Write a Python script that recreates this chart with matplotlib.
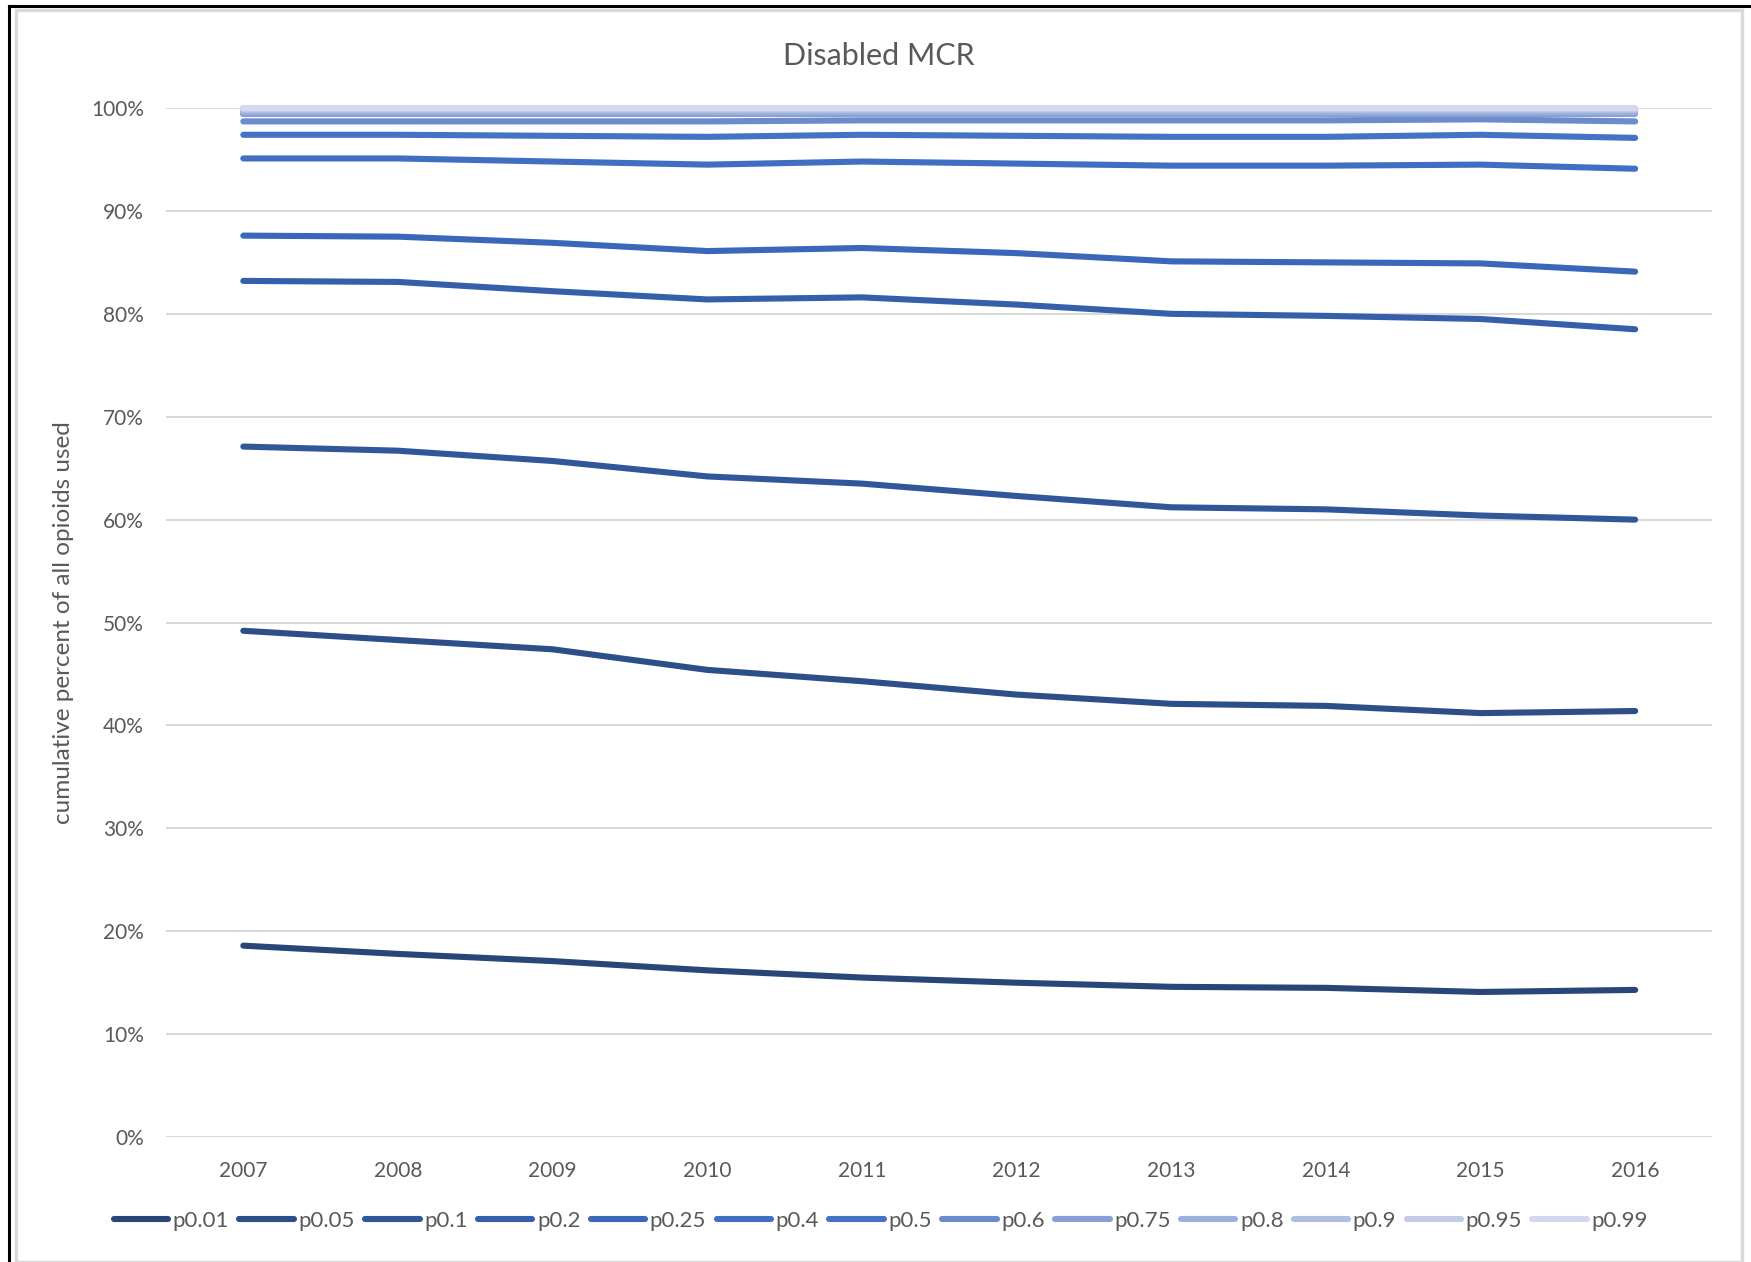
import numpy as np
import matplotlib.pyplot as plt
from matplotlib.lines import Line2D
from matplotlib.patches import Rectangle
from matplotlib.ticker import PercentFormatter

plt.rcParams['font.family'] = ['Lato', 'DejaVu Sans']

years = ['2007', '2008', '2009', '2010', '2011', '2012', '2013', '2014', '2015', '2016']
series_names = ['p0.01', 'p0.05', 'p0.1', 'p0.2', 'p0.25', 'p0.4', 'p0.5',
                'p0.6', 'p0.75', 'p0.8', 'p0.9', 'p0.95', 'p0.99']

# cumulative percent of all opioids used
p001 = [18.6, 17.8, 17.1, 16.2, 15.5, 15.0, 14.6, 14.5, 14.1, 14.3]
p005 = [49.2, 48.3, 47.4, 45.4, 44.3, 43.0, 42.1, 41.9, 41.2, 41.4]
p01 = [67.1, 66.7, 65.7, 64.2, 63.5, 62.3, 61.2, 61.0, 60.4, 60.0]
p02 = [83.2, 83.1, 82.2, 81.4, 81.6, 80.9, 80.0, 79.8, 79.5, 78.5]
p025 = [87.6, 87.5, 86.9, 86.1, 86.4, 85.9, 85.1, 85.0, 84.9, 84.1]
p04 = [95.1, 95.1, 94.8, 94.5, 94.8, 94.6, 94.4, 94.4, 94.5, 94.1]
p05 = [97.4, 97.4, 97.3, 97.2, 97.4, 97.3, 97.2, 97.2, 97.4, 97.1]
p06 = [98.7, 98.7, 98.7, 98.7, 98.8, 98.8, 98.8, 98.8, 98.9, 98.7]
p075 = [99.4, 99.4, 99.4, 99.4, 99.4, 99.4, 99.4, 99.4, 99.4, 99.4]
p08 = [99.6, 99.6, 99.6, 99.6, 99.6, 99.6, 99.6, 99.6, 99.6, 99.6]
p09 = [99.8, 99.8, 99.8, 99.8, 99.8, 99.8, 99.8, 99.8, 99.8, 99.8]
p095 = [99.9, 99.9, 99.9, 99.9, 99.9, 99.9, 99.9, 99.9, 99.9, 99.9]
p099 = [100.0, 100.0, 100.0, 100.0, 100.0, 100.0, 100.0, 100.0, 100.0, 100.0]

all_series = [p001, p005, p01, p02, p025, p04, p05, p06, p075, p08, p09, p095, p099]

colors = ['#284677', '#2C4E89', '#31579A', '#355FAB', '#3A67B9', '#3F6EC2', '#4472C4',
          '#6A8BCE', '#88A0D6', '#9CB0DC', '#B0BEE2', '#C2CCE8', '#D2D9EF']

fig = plt.figure(figsize=(17.51, 12.62), dpi=100)
ax = fig.add_axes([0.0948, 0.099, 0.978 - 0.0948, 0.9144 - 0.099])

x = np.arange(len(years))
for name, vals, c in zip(series_names, all_series, colors):
    ax.plot(x, vals, color=c, lw=4.4, solid_capstyle='round', solid_joinstyle='round',
            label=name, clip_on=False)

ax.set_xlim(-0.5, len(years) - 0.5)
ax.set_ylim(0, 100)
ax.set_yticks(np.arange(0, 101, 10))
ax.yaxis.set_major_formatter(PercentFormatter(decimals=0))
ax.set_xticks(x)
ax.set_xticklabels(years)
ax.grid(axis='y', color='#D9D9D9', lw=1.5)
ax.set_axisbelow(True)
for s in ax.spines.values():
    s.set_visible(False)
ax.tick_params(length=0, labelsize=15, labelcolor='#595959')
ax.tick_params(axis='x', pad=17)
ax.tick_params(axis='y', pad=16)
ax.set_ylabel('cumulative percent of all opioids used', fontsize=17.5, color='#595959', labelpad=12)
fig.text(0.502, 0.9555, 'Disabled MCR', fontsize=22, color='#595959', ha='center', va='center')

leg = fig.legend(loc='center', bbox_to_anchor=(0.503, 1 - 1221 / 1262), ncol=13, frameon=False,
                 fontsize=16, handlelength=2.45, handletextpad=0.2, columnspacing=0.47)
for t in leg.get_texts():
    t.set_color('#595959')

# chart border and screenshot edge
fig.add_artist(Rectangle((16 / 1751, 0), (1742 - 16) / 1751, 1 - 10 / 1262, transform=fig.transFigure,
                         fill=False, edgecolor='#D9D9D9', lw=2.5))
fig.add_artist(Line2D([9 / 1751, 9 / 1751], [0, 1 - 6 / 1262], transform=fig.transFigure, color='black', lw=2.2))
fig.add_artist(Line2D([9 / 1751, 1], [1 - 6 / 1262, 1 - 6 / 1262], transform=fig.transFigure, color='black', lw=2.2))

fig.savefig('out.png', dpi=100)
